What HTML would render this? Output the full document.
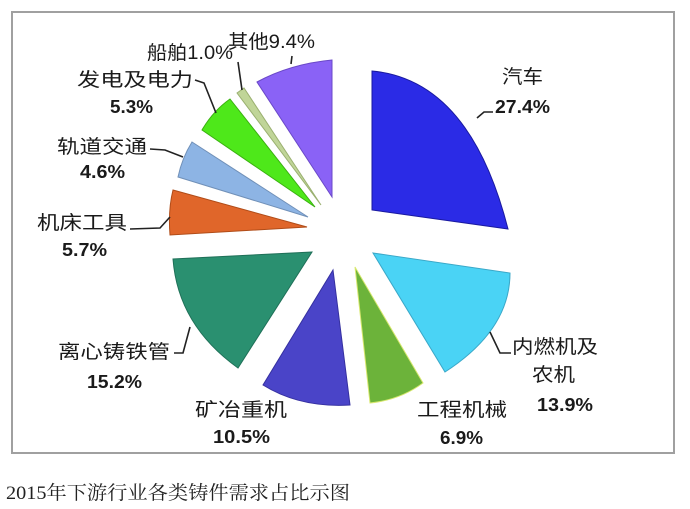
<!DOCTYPE html>
<html><head><meta charset="utf-8"><style>
html,body{margin:0;padding:0;background:#fff;}
svg{display:block;}
.l{font-family:"Liberation Sans","Noto Sans CJK SC",sans-serif;font-size:19px;fill:#1a1a1a;}
.p{font-family:"Liberation Sans","Noto Sans CJK SC",sans-serif;font-size:18px;font-weight:bold;fill:#1a1a1a;}
.ld{fill:none;stroke:#222;stroke-width:1.6;}
</style></head><body>
<svg width="690" height="509" viewBox="0 0 690 509" xmlns="http://www.w3.org/2000/svg">
<rect x="12" y="12" width="662" height="441" fill="#fff" stroke="#a0a0a0" stroke-width="2"/>
<path d="M372,71 Q470,80 508,229 L372,210 Z" fill="#2b2be6" stroke="#1a1aa0" stroke-width="1"/>
<path d="M373,253 L510,273 Q510,330 445,372 Z" fill="#4ad3f5" stroke="#3aa8c8" stroke-width="1"/>
<path d="M355,267 L423,383 Q400,400 370,403 Z" fill="#6cb33a" stroke="#d8e870" stroke-width="1"/>
<path d="M333,270 L350,405 Q300,408 263,385 Z" fill="#4a44c8" stroke="#3530a0" stroke-width="1"/>
<path d="M312,252 L173,259 Q178,325 238,368 Z" fill="#2a9070" stroke="#1f7058" stroke-width="1"/>
<path d="M173,190 L307,227 L170,235 Q168,210 173,190 Z" fill="#e0662a" stroke="#b04c18" stroke-width="1"/>
<path d="M192,142 L308,217 L178,177 Q182,158 192,142 Z" fill="#8db4e4" stroke="#7090b8" stroke-width="1"/>
<path d="M202,130 Q213,111 230,99 L315,207 Z" fill="#4ee81a" stroke="#3ab010" stroke-width="1"/>
<path d="M237,93 L244,88 L321,205 Z" fill="#c0d598" stroke="#9ab070" stroke-width="1"/>
<path d="M257,82 Q290,64 332,60 L332,197 Z" fill="#8a62f6" stroke="#6a48c8" stroke-width="1"/>

<path class="ld" d="M477,118 L484,112 L493,112"/>
<path class="ld" d="M490,332 L500,353 L511,353"/>
<path class="ld" d="M190,327 L183,353 L174,353"/>
<path class="ld" d="M170,217 L160,228 L130,229"/>
<path class="ld" d="M183,157 L165,150 L150,149"/>
<path class="ld" d="M216,113 L204,83 L195,80"/>
<path class="ld" d="M242,90 L238,62"/>
<path class="ld" d="M291,64 L292,56"/>

<text class="l" x="502" y="83" textLength="41" lengthAdjust="spacingAndGlyphs">汽车</text>
<text class="p" x="495" y="113" textLength="55" lengthAdjust="spacingAndGlyphs">27.4%</text>
<text class="l" x="512" y="353" textLength="86" lengthAdjust="spacingAndGlyphs">内燃机及</text>
<text class="l" x="532" y="381" textLength="43" lengthAdjust="spacingAndGlyphs">农机</text>
<text class="p" x="537" y="411" textLength="56" lengthAdjust="spacingAndGlyphs">13.9%</text>
<text class="l" x="417" y="416" textLength="90" lengthAdjust="spacingAndGlyphs">工程机械</text>
<text class="p" x="440" y="444" textLength="43" lengthAdjust="spacingAndGlyphs">6.9%</text>
<text class="l" x="195" y="416" textLength="92" lengthAdjust="spacingAndGlyphs">矿冶重机</text>
<text class="p" x="213" y="443" textLength="57" lengthAdjust="spacingAndGlyphs">10.5%</text>
<text class="l" x="58" y="358" textLength="112" lengthAdjust="spacingAndGlyphs">离心铸铁管</text>
<text class="p" x="87" y="388" textLength="55" lengthAdjust="spacingAndGlyphs">15.2%</text>
<text class="l" x="37" y="229" textLength="90" lengthAdjust="spacingAndGlyphs">机床工具</text>
<text class="p" x="62" y="256" textLength="45" lengthAdjust="spacingAndGlyphs">5.7%</text>
<text class="l" x="57" y="153" textLength="90" lengthAdjust="spacingAndGlyphs">轨道交通</text>
<text class="p" x="80" y="178" textLength="45" lengthAdjust="spacingAndGlyphs">4.6%</text>
<text class="l" x="77" y="86" textLength="116" lengthAdjust="spacingAndGlyphs">发电及电力</text>
<text class="p" x="110" y="113" textLength="43" lengthAdjust="spacingAndGlyphs">5.3%</text>
<text class="l" x="147" y="59" textLength="86" lengthAdjust="spacingAndGlyphs">船舶1.0%</text>
<text class="l" x="228" y="48" textLength="87" lengthAdjust="spacingAndGlyphs">其他9.4%</text>

<text x="6" y="499" font-family="Liberation Serif,'Noto Serif CJK SC',serif" font-size="19" fill="#222" textLength="344" lengthAdjust="spacingAndGlyphs">2015年下游行业各类铸件需求占比示图</text>
</svg>
</body></html>
